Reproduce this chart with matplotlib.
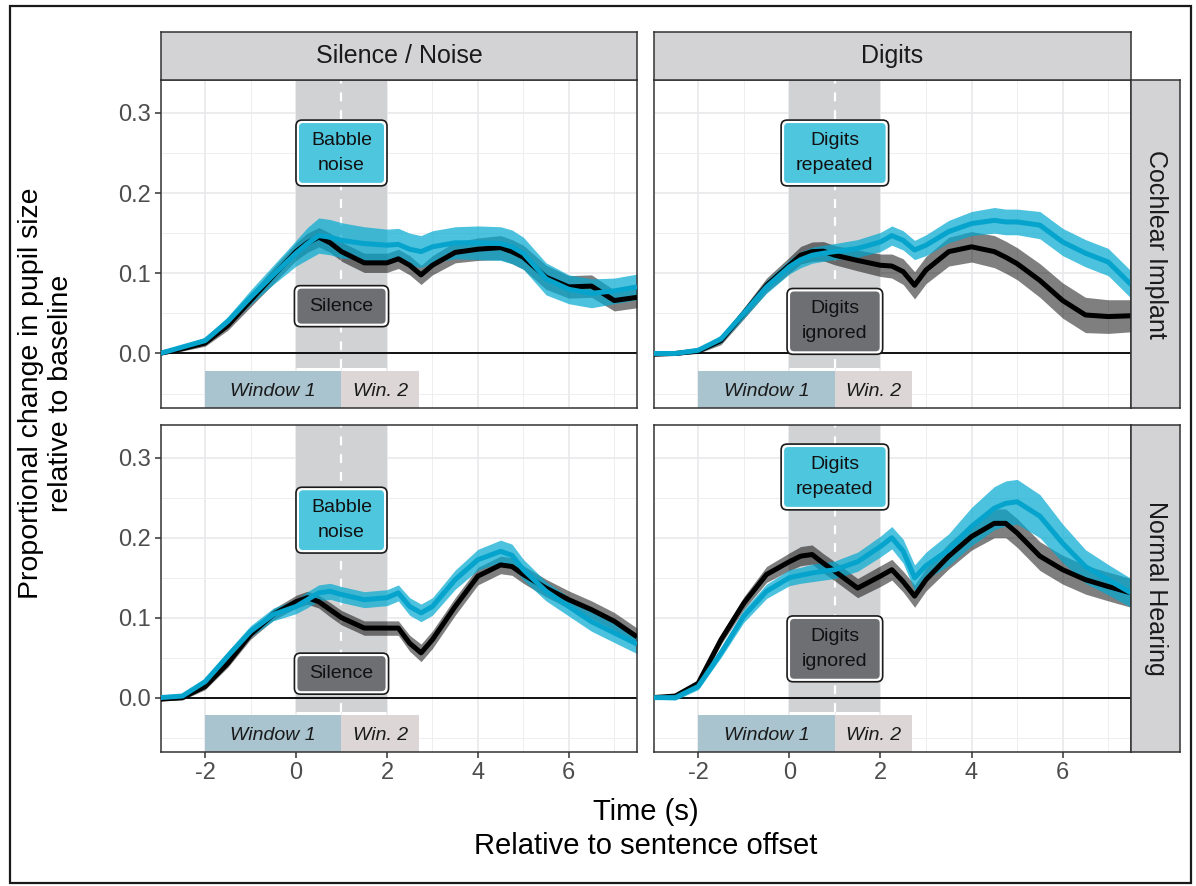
import matplotlib
matplotlib.use('Agg')
import matplotlib.pyplot as plt
from matplotlib.patches import Rectangle, FancyBboxPatch
from matplotlib.transforms import IdentityTransform

plt.rcParams['font.family'] = ['Liberation Sans', 'DejaVu Sans']
plt.rcParams['axes.unicode_minus'] = False

# ---------------- data ----------------
time_s = [-3, -2.5, -2, -1.5, -1, -0.5, 0, 0.25, 0.5, 0.75, 1, 1.5, 2, 2.25,
          2.5, 2.75, 3, 3.5, 4, 4.5, 4.75, 5, 5.5, 6, 6.5, 7, 7.5]

ci_silence = [0.000, 0.006, 0.013, 0.035, 0.066, 0.097, 0.127, 0.138, 0.145, 0.138, 0.127, 0.113, 0.113, 0.118,
              0.110, 0.098, 0.110, 0.126, 0.130, 0.132, 0.127, 0.120, 0.095, 0.083, 0.084, 0.066, 0.070]
ci_silence_se = [0.002, 0.003, 0.004, 0.006, 0.008, 0.010, 0.011, 0.012, 0.012, 0.012, 0.012, 0.012, 0.012, 0.012,
                 0.012, 0.012, 0.012, 0.013, 0.014, 0.015, 0.015, 0.015, 0.015, 0.014, 0.014, 0.013, 0.013]
ci_babble = [0.000, 0.008, 0.016, 0.040, 0.070, 0.098, 0.125, 0.137, 0.147, 0.145, 0.141, 0.137, 0.135, 0.136,
             0.130, 0.127, 0.133, 0.138, 0.138, 0.137, 0.133, 0.125, 0.093, 0.080, 0.075, 0.078, 0.083]
ci_babble_se = [0.002, 0.003, 0.004, 0.006, 0.009, 0.012, 0.016, 0.020, 0.022, 0.022, 0.022, 0.021, 0.020, 0.020,
                0.020, 0.020, 0.020, 0.020, 0.021, 0.021, 0.021, 0.020, 0.020, 0.018, 0.018, 0.016, 0.016]

ci_ignored = [-0.001, 0.000, 0.003, 0.016, 0.050, 0.085, 0.110, 0.1225, 0.127, 0.1275, 0.1225, 0.116, 0.110, 0.109,
              0.102, 0.085, 0.104, 0.127, 0.133, 0.127, 0.120, 0.112, 0.091, 0.066, 0.048, 0.046, 0.047]
ci_ignored_se = [0.002, 0.002, 0.003, 0.005, 0.007, 0.009, 0.010, 0.011, 0.012, 0.012, 0.012, 0.013, 0.014, 0.015,
                 0.016, 0.017, 0.017, 0.018, 0.019, 0.020, 0.020, 0.020, 0.021, 0.022, 0.022, 0.021, 0.020]
ci_repeated = [0.000, 0.000, 0.004, 0.018, 0.050, 0.083, 0.108, 0.117, 0.1225, 0.125, 0.127, 0.131, 0.139, 0.147,
               0.141, 0.129, 0.135, 0.152, 0.162, 0.166, 0.164, 0.164, 0.160, 0.139, 0.125, 0.114, 0.086]
ci_repeated_se = [0.002, 0.002, 0.003, 0.005, 0.006, 0.008, 0.009, 0.010, 0.010, 0.010, 0.010, 0.011, 0.012, 0.012,
                  0.012, 0.012, 0.013, 0.014, 0.015, 0.016, 0.016, 0.016, 0.017, 0.017, 0.017, 0.017, 0.017]

nh_silence = [-0.002, 0.000, 0.014, 0.043, 0.079, 0.104, 0.120, 0.125, 0.120, 0.110, 0.100, 0.087, 0.087, 0.087,
              0.068, 0.056, 0.0725, 0.114, 0.152, 0.166, 0.164, 0.154, 0.137, 0.1225, 0.110, 0.0955, 0.076]
nh_silence_se = [0.002, 0.003, 0.004, 0.005, 0.006, 0.007, 0.008, 0.008, 0.008, 0.009, 0.009, 0.009, 0.009, 0.009,
                 0.010, 0.011, 0.011, 0.011, 0.011, 0.011, 0.011, 0.011, 0.011, 0.011, 0.011, 0.011, 0.011]
nh_babble = [0.000, 0.002, 0.020, 0.052, 0.083, 0.104, 0.114, 0.1225, 0.131, 0.133, 0.129, 0.1225, 0.125, 0.131,
             0.114, 0.106, 0.114, 0.1475, 0.1725, 0.183, 0.178, 0.160, 0.133, 0.114, 0.095, 0.081, 0.067]
nh_babble_se = [0.002, 0.003, 0.004, 0.006, 0.007, 0.008, 0.009, 0.010, 0.010, 0.010, 0.010, 0.010, 0.010, 0.010,
                0.011, 0.011, 0.011, 0.012, 0.013, 0.014, 0.014, 0.013, 0.012, 0.012, 0.012, 0.012, 0.012]

nh_ignored = [0.000, 0.002, 0.018, 0.0725, 0.118, 0.154, 0.170, 0.177, 0.179, 0.168, 0.158, 0.137, 0.152, 0.160,
              0.145, 0.127, 0.1475, 0.177, 0.2015, 0.218, 0.218, 0.206, 0.177, 0.160, 0.1475, 0.139, 0.131]
nh_ignored_se = [0.002, 0.003, 0.004, 0.006, 0.008, 0.010, 0.011, 0.012, 0.012, 0.012, 0.012, 0.012, 0.013, 0.013,
                 0.013, 0.014, 0.014, 0.016, 0.017, 0.018, 0.018, 0.018, 0.018, 0.018, 0.018, 0.018, 0.018]
nh_repeated = [0.000, 0.000, 0.014, 0.056, 0.102, 0.133, 0.150, 0.153, 0.156, 0.158, 0.160, 0.170, 0.189, 0.200,
               0.183, 0.150, 0.165, 0.185, 0.214, 0.237, 0.243, 0.245, 0.227, 0.193, 0.164, 0.1475, 0.131]
nh_repeated_se = [0.002, 0.003, 0.004, 0.006, 0.008, 0.009, 0.010, 0.010, 0.011, 0.011, 0.011, 0.012, 0.013, 0.014,
                  0.015, 0.016, 0.017, 0.020, 0.024, 0.027, 0.028, 0.028, 0.027, 0.024, 0.021, 0.019, 0.018]

col_labels = ['Silence / Noise', 'Digits']
row_labels = ['Cochlear Implant', 'Normal Hearing']
x_ticks = [-2, 0, 2, 4, 6]
y_ticks = [0.0, 0.1, 0.2, 0.3]
y_tick_labels = ['0.0', '0.1', '0.2', '0.3']
window_labels = ['Window 1', 'Win. 2']

# ---------------- styling ----------------
W, H = 1196, 886
fig = plt.figure(figsize=(W / 100, H / 100), dpi=100)

BLACK_LINE = '#000000'
CYAN_LINE = '#06a4cc'
CYAN_RIB = '#00a9d1'
CYAN_LAB = '#4ec6de'
GRAY_LAB = '#6e6f73'
BAND = '#d1d2d4'
WIN1 = '#a9c4cf'
WIN2 = '#dcd6d7'
FRAME = '#333333'
STRIP = '#d3d3d5'

XLIM = (-2.97, 7.5)
YLIM = (-0.068, 0.341)

def px_axes(l, t, r, b):
    return fig.add_axes([l / W, 1 - b / H, (r - l) / W, (b - t) / H])

panel_px = {
    (0, 0): (161, 80, 637, 408), (0, 1): (654, 80, 1131, 408),
    (1, 0): (161, 425, 637, 752), (1, 1): (654, 425, 1131, 752),
}

panel_data = {
    (0, 0): [(ci_silence, ci_silence_se, 'k'), (ci_babble, ci_babble_se, 'c')],
    (0, 1): [(ci_ignored, ci_ignored_se, 'k'), (ci_repeated, ci_repeated_se, 'c')],
    (1, 0): [(nh_silence, nh_silence_se, 'k'), (nh_babble, nh_babble_se, 'c')],
    (1, 1): [(nh_ignored, nh_ignored_se, 'k'), (nh_repeated, nh_repeated_se, 'c')],
}

# label boxes: (text, y centre, colour)
panel_boxes = {
    (0, 0): [('Babble\nnoise', 0.250, CYAN_LAB), ('Silence', 0.059, GRAY_LAB)],
    (0, 1): [('Digits\nrepeated', 0.250, CYAN_LAB), ('Digits\nignored', 0.040, GRAY_LAB)],
    (1, 0): [('Babble\nnoise', 0.222, CYAN_LAB), ('Silence', 0.030, GRAY_LAB)],
    (1, 1): [('Digits\nrepeated', 0.276, CYAN_LAB), ('Digits\nignored', 0.061, GRAY_LAB)],
}

box_texts = []
band_bottom = -0.018
win_top = -0.022

for (r, c), (l, t, rr, b) in panel_px.items():
    ax = px_axes(l, t, rr, b)
    ax.set_xlim(*XLIM)
    ax.set_ylim(*YLIM)
    ax.set_xticks(x_ticks)
    ax.set_xticks([-1, 1, 3, 5, 7], minor=True)
    ax.set_yticks(y_ticks)
    ax.set_yticks([-0.05, 0.05, 0.15, 0.25], minor=True)
    ax.set_yticklabels(y_tick_labels)
    ax.set_axisbelow(True)
    ax.grid(which='major', color='#e9e9ec', lw=1.2)
    ax.grid(which='minor', color='#eeeef0', lw=0.7)
    for sp in ax.spines.values():
        sp.set_color(FRAME)
        sp.set_linewidth(1.1)
    ax.tick_params(which='major', length=4, width=1.1, color=FRAME,
                   labelcolor='#4d4d4d', labelsize=17, pad=3)
    ax.tick_params(which='minor', length=0)
    if c == 1:
        ax.tick_params(axis='y', which='both', left=False, labelleft=False)
    if r == 0:
        ax.tick_params(axis='x', which='both', bottom=False, labelbottom=False)

    # event band and windows
    ax.add_patch(Rectangle((0, band_bottom), 2, YLIM[1] - band_bottom, fc=BAND, ec='none', zorder=0.8))
    ax.plot([1, 1], [band_bottom, YLIM[1]], color='white', lw=1.6, ls=(0, (4, 4)), zorder=0.9)
    ax.add_patch(Rectangle((-2, YLIM[0]), 3, win_top - YLIM[0], fc=WIN1, ec='none', zorder=0.85))
    ax.add_patch(Rectangle((1, YLIM[0]), 1.7, win_top - YLIM[0], fc=WIN2, ec='none', zorder=0.85))
    ax.text(-0.5, -0.047, window_labels[0], ha='center', va='center', style='italic',
            fontsize=14, color='#1a1a1a', zorder=0.95)
    ax.text(1.85, -0.047, window_labels[1], ha='center', va='center', style='italic',
            fontsize=14, color='#1a1a1a', zorder=0.95)
    ax.axhline(0, color='black', lw=1.3, zorder=1)

    # ribbons then lines
    for (m, se, kind) in panel_data[(r, c)]:
        lo = [a - s for a, s in zip(m, se)]
        hi = [a + s for a, s in zip(m, se)]
        if kind == 'k':
            ax.fill_between(time_s, lo, hi, color='black', alpha=0.5, lw=0, zorder=2)
        else:
            ax.fill_between(time_s, lo, hi, color=CYAN_RIB, alpha=0.7, lw=0, zorder=2.1)
    for (m, se, kind) in panel_data[(r, c)]:
        if kind == 'k':
            ax.plot(time_s, m, color=BLACK_LINE, lw=3.6, zorder=3, solid_capstyle='butt')
        else:
            ax.plot(time_s, m, color=CYAN_LINE, lw=3.6, zorder=3.1, solid_capstyle='butt')

    for (txt, yc, col) in panel_boxes[(r, c)]:
        tt = ax.text(1, yc, txt, ha='center', va='center', fontsize=14, color='#111111',
                     linespacing=1.6, zorder=7)
        box_texts.append((ax, tt, col))

# strips
for c, lab in enumerate(col_labels):
    l, t, rr, b = panel_px[(0, c)]
    sax = px_axes(l, 32, rr, 80)
    sax.set_facecolor(STRIP)
    sax.set_xticks([]); sax.set_yticks([])
    for sp in sax.spines.values():
        sp.set_color(FRAME); sp.set_linewidth(1.1)
    sax.text(0.5, 0.5, lab, ha='center', va='center', fontsize=18, color='#1a1a1a',
             transform=sax.transAxes)

for r, lab in enumerate(row_labels):
    l, t, rr, b = panel_px[(r, 1)]
    sax = px_axes(1131, t, 1180, b)
    sax.set_facecolor(STRIP)
    sax.set_xticks([]); sax.set_yticks([])
    for sp in sax.spines.values():
        sp.set_color(FRAME); sp.set_linewidth(1.1)
    sax.text(0.5, 0.5, lab, ha='center', va='center', fontsize=18, color='#1a1a1a',
             rotation=-90, transform=sax.transAxes)

# axis titles
fig.text(46 / W, 1 - 393 / H, 'Proportional change in pupil size\nrelative to baseline',
         rotation=90, ha='center', va='center', fontsize=20.5, color='black', linespacing=1.2)
fig.text(646 / W, 1 - 829 / H, 'Time (s)\nRelative to sentence offset',
         ha='center', va='center', fontsize=21, color='black', linespacing=1.25)

# outer border
fig.add_artist(Rectangle((10 / W, 3 / H), 1181 / W, 877 / H, transform=fig.transFigure,
                         fill=False, ec='#1a1a1a', lw=1.6))

# label boxes sized from the rendered text
fig.canvas.draw()
renderer = fig.canvas.get_renderer()
PADX, PADY = 15, 12
for ax, tt, col in box_texts:
    bb = tt.get_window_extent(renderer)
    x0, y0 = bb.x0 - PADX, bb.y0 - PADY
    w, h = bb.width + 2 * PADX, bb.height + 2 * PADY
    outer = FancyBboxPatch((x0, y0), w, h, boxstyle='round,pad=0,rounding_size=6',
                           transform=IdentityTransform(), fc='white', ec='#1a1a1a', lw=1.2,
                           zorder=5, clip_on=False)
    inner = FancyBboxPatch((x0 + 3, y0 + 3), w - 6, h - 6, boxstyle='round,pad=0,rounding_size=4',
                           transform=IdentityTransform(), fc=col, ec='none', zorder=6, clip_on=False)
    ax.add_artist(outer)
    ax.add_artist(inner)

fig.savefig('out.png', dpi=100)
